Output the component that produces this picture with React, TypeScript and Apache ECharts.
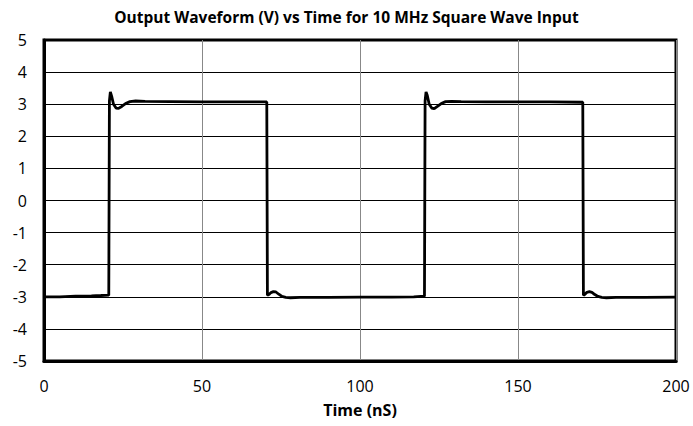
import React, { useEffect, useRef } from "react";
import * as echarts from "echarts";

const titleText = "Output Waveform (V) vs Time for 10 MHz Square Wave Input";
const xAxisName = "Time (nS)";

const timeNs = [
  0, 5, 10, 15, 18, 20.5, 20.7, 21.0, 21.4, 22.0, 22.8, 23.6, 24.6, 25.8, 27.2, 29, 32, 40, 50, 60, 70.5,
  70.7, 71.2, 71.8, 72.6, 73.4, 74.3, 75.3, 76.5, 78, 81, 90, 100, 110, 117, 120.4,
  120.6, 120.9, 121.3, 121.9, 122.7, 123.5, 124.5, 125.7, 127.1, 129, 132, 140, 150, 160, 170.5,
  170.7, 171.2, 171.8, 172.6, 173.4, 174.3, 175.3, 176.5, 178, 181, 190, 200,
];
const voltage = [
  -3.0, -3.0, -2.98, -2.97, -2.96, -2.95, 3.1, 3.38, 3.25, 3.0, 2.88, 2.87, 2.93, 3.02, 3.08, 3.1, 3.09, 3.08, 3.07, 3.07, 3.07,
  -2.95, -2.93, -2.87, -2.84, -2.85, -2.92, -2.99, -3.02, -3.03, -3.02, -3.02, -3.01, -3.01, -3.0, -2.98,
  3.1, 3.38, 3.27, 3.0, 2.88, 2.86, 2.93, 3.02, 3.08, 3.09, 3.08, 3.07, 3.07, 3.07, 3.06,
  -2.95, -2.92, -2.86, -2.84, -2.86, -2.93, -2.99, -3.02, -3.03, -3.02, -3.02, -3.01,
];
const xTicks = { min: 0, max: 200, interval: 50 };
const yTicks = { min: -5, max: 5, interval: 1 };

export default function App() {
  const ref = useRef<HTMLDivElement>(null);
  useEffect(() => {
    if (!ref.current) return;
    const chart = echarts.init(ref.current, null, { renderer: "svg" });
    const font = "'Open Sans', sans-serif";
    chart.setOption({
      animation: false,
      backgroundColor: "#ffffff",
      title: {
        text: titleText,
        left: "center",
        top: 4,
        textStyle: { fontFamily: font, fontWeight: "bold", fontSize: 15.5, color: "#000" },
      },
      grid: {
        left: 44,
        right: 17,
        top: 40,
        bottom: 65,
        show: true,
        borderColor: "#000",
        borderWidth: 3,
        containLabel: false,
      },
      xAxis: {
        type: "value",
        min: xTicks.min,
        max: xTicks.max,
        interval: xTicks.interval,
        name: xAxisName,
        nameLocation: "middle",
        nameGap: 41,
        nameTextStyle: { fontFamily: font, fontWeight: "bold", fontSize: 16, color: "#000" },
        axisLine: { show: true, onZero: false, lineStyle: { color: "#000", width: 3 } },
        axisTick: { show: false },
        axisLabel: { fontFamily: font, fontSize: 16, color: "#000", margin: 17 },
        splitLine: { show: true, lineStyle: { color: "#888", width: 1 } },
      },
      yAxis: {
        type: "value",
        min: yTicks.min,
        max: yTicks.max,
        interval: yTicks.interval,
        axisLine: { show: true, onZero: false, lineStyle: { color: "#000", width: 3 } },
        axisTick: { show: false },
        axisLabel: { fontFamily: font, fontSize: 16, color: "#000", margin: 17 },
        splitLine: { show: true, lineStyle: { color: "#000", width: 1 } },
      },
      series: [
        {
          type: "line",
          data: timeNs.map((t, i) => [t, voltage[i]]),
          showSymbol: false,
          symbol: "none",
          lineStyle: { color: "#000", width: 2.8 },
        },
      ],
    });
    return () => chart.dispose();
  }, []);
  return (
    <div
      ref={ref}
      style={{ position: "fixed", left: 0, top: 0, width: 693, height: 426, overflow: "visible" }}
    />
  );
}
